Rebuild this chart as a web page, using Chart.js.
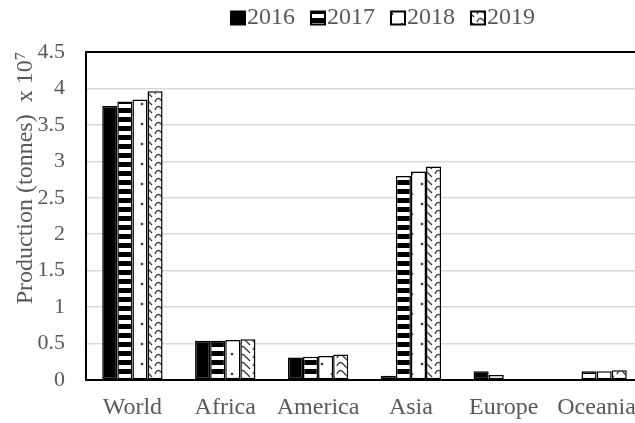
<!DOCTYPE html>
<html><head><meta charset="utf-8">
<script src="https://cdn.jsdelivr.net/npm/chart.js@4/dist/chart.umd.min.js"></script>
<style>
html,body{margin:0;padding:0;overflow:hidden;background:#fff;width:635px;height:423px;}
#wrap{width:766px;height:423px;position:relative;}
canvas{display:block;}
</style></head><body><div id="wrap"><canvas id="c" width="766" height="423"></canvas></div>
<script>
const categories = ['World','Africa','America','Asia','Europe','Oceania'];
const years = ['2016','2017','2018','2019'];
const v2016 = [3.76, 0.54, 0.31, 0.06, 0.12, 0];
const v2017 = [3.82, 0.54, 0.32, 2.80, 0.07, 0.12];
const v2018 = [3.85, 0.55, 0.33, 2.86, 0, 0.12];
const v2019 = [3.96, 0.56, 0.35, 2.93, 0, 0.135];
const yMin = 0, yMax = 4.5, yStep = 0.5;
const yTitle = 'Production (tonnes)\u00a0\u00a0x 10\u2077';

const FONT = 'Liberation Serif, Times New Roman, serif';
const GRAY = '#595959';

function makePattern(kind){
  const c = document.createElement('canvas');
  const x = c.getContext('2d');
  if (kind === 'solid'){ return '#000'; }
  if (kind === 'hstripe'){
    c.width = 4; c.height = 9;
    x.fillStyle = '#000'; x.fillRect(0,0,4,9);
    x.fillStyle = '#fff'; x.fillRect(0,5,4,4);
  } else if (kind === 'dots'){
    c.width = 20; c.height = 20;
    x.fillStyle = '#fff'; x.fillRect(0,0,20,20);
    x.fillStyle = '#333';
    x.beginPath(); x.arc(2,4,1.3,0,Math.PI*2); x.fill();
    x.beginPath(); x.arc(12,14,1.3,0,Math.PI*2); x.fill();
  } else if (kind === 'wave'){
    c.width = 14; c.height = 8;
    x.fillStyle = '#fff'; x.fillRect(0,0,14,8);
    x.strokeStyle = '#3a3a3a'; x.lineWidth = 1.4;
    for (let k=-1;k<=1;k++){
      const o = k*8;
      x.beginPath();
      x.moveTo(1, 6+o); x.quadraticCurveTo(3, 1+o, 6, 3+o); x.lineTo(12, 9+o);
      x.stroke();
    }
  }
  return x.createPattern(c, 'repeat');
}

const fills = [makePattern('solid'), makePattern('hstripe'), makePattern('dots'), makePattern('wave')];
const seriesValues = [v2016, v2017, v2018, v2019];

const frame = {
  id:'frame',
  afterDatasetsDraw(chart){
    const {ctx, chartArea:a} = chart;
    ctx.save(); ctx.strokeStyle = '#000'; ctx.lineWidth = 2;
    ctx.strokeRect(a.left, a.top, a.right - a.left, a.bottom - a.top);
    ctx.restore();
  }
};

// Excel-like legend: box, small gap, label, wider gap; centred on the full chart width
const excelLegend = {
  id:'excelLegend',
  afterDraw(chart){
    const ctx = chart.ctx;
    const boxW = 14, boxH = 13, gapText = 2, gapItem = 16, cy = 18;
    ctx.save();
    ctx.font = '24px ' + FONT;
    ctx.textBaseline = 'middle';
    const items = chart.data.datasets.map(d => ({ text: d.label, fill: d.backgroundColor, w: ctx.measureText(d.label).width }));
    const total = items.reduce((s, it) => s + boxW + gapText + it.w, 0) + gapItem * (items.length - 1);
    let x = chart.width / 2 - total / 2;
    items.forEach(it => {
      ctx.fillStyle = it.fill;
      ctx.fillRect(x, cy - boxH / 2, boxW, boxH);
      ctx.strokeStyle = '#000'; ctx.lineWidth = 2;
      ctx.strokeRect(x, cy - boxH / 2, boxW, boxH);
      x += boxW + gapText;
      ctx.fillStyle = GRAY;
      ctx.fillText(it.text, x, cy);
      x += it.w + gapItem;
    });
    ctx.restore();
  }
};

new Chart(document.getElementById('c'), {
  type: 'bar',
  data: {
    labels: categories,
    datasets: years.map((y,i)=>({
      label: y,
      data: seriesValues[i],
      backgroundColor: fills[i],
      borderColor: '#000',
      borderWidth: 1.5,
      borderSkipped: false,
      categoryPercentage: 0.65,
      barPercentage: 1
    }))
  },
  options: {
    responsive: false,
    animation: false,
    layout: { padding: { left: 0, right: 123, top: 52, bottom: 0 } },
    plugins: {
      legend: { display: false },
      tooltip: { enabled: false }
    },
    scales: {
      x: {
        afterFit(scale){ scale.height = 43; },
        grid: { display: false, tickLength: 0 },
        border: { color: '#000', width: 2 },
        ticks: { font: { family: FONT, size: 24 }, color: GRAY, padding: 13, maxRotation: 0, autoSkip: false }
      },
      y: {
        min: yMin, max: yMax,
        afterFit(scale){ scale.width = 86; },
        grid: { color: '#d9d9d9', lineWidth: 1.5, drawTicks: false },
        border: { color: '#000', width: 2 },
        ticks: { stepSize: yStep, font: { family: FONT, size: 22 }, color: GRAY, padding: 21,
                 callback: v => String(Math.round(v * 10) / 10) },
        title: { display: true, text: yTitle, align: 'end', color: GRAY, font: { family: FONT, size: 24 }, padding: { top: 11, bottom: 0 } }
      }
    }
  },
  plugins: [frame, excelLegend]
});
</script></body></html>
